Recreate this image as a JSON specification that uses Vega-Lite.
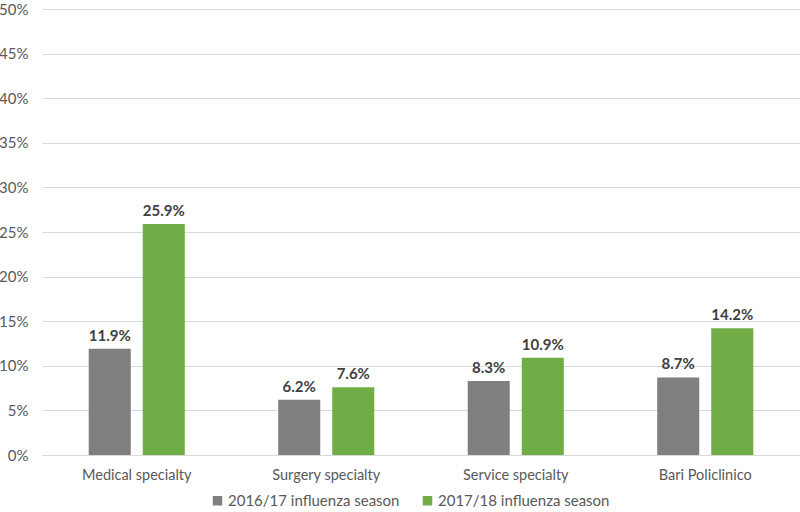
{
  "$schema": "https://vega.github.io/schema/vega-lite/v6.json",
  "autosize": {"type": "none"},
  "padding": {"left": 42, "top": 9, "right": 0, "bottom": 57},
  "width": 758,
  "height": 446,
  "background": "white",
  "data": {
    "values": [
      {"group": "Medical specialty", "season": "2016/17 influenza season", "value": 0.119},
      {"group": "Medical specialty", "season": "2017/18 influenza season", "value": 0.259},
      {"group": "Surgery specialty", "season": "2016/17 influenza season", "value": 0.062},
      {"group": "Surgery specialty", "season": "2017/18 influenza season", "value": 0.076},
      {"group": "Service specialty", "season": "2016/17 influenza season", "value": 0.083},
      {"group": "Service specialty", "season": "2017/18 influenza season", "value": 0.109},
      {"group": "Bari Policlinico", "season": "2016/17 influenza season", "value": 0.087},
      {"group": "Bari Policlinico", "season": "2017/18 influenza season", "value": 0.142}
    ]
  },
  "config": {
    "view": {"stroke": null},
    "font": "Lato"
  },
  "encoding": {
    "x": {
      "field": "group", "type": "nominal", "sort": null,
      "scale": {"paddingInner": 0.493, "paddingOuter": 0.2465},
      "axis": {"title": null, "labelAngle": 0, "ticks": false, "domainColor": "#d9d9d9", "labelColor": "#595959", "labelFontSize": 14.5, "labelPadding": 13, "labelFont": "Lato"}
    },
    "xOffset": {"field": "season", "type": "nominal", "scale": {"paddingInner": 0.222, "paddingOuter": 0}},
    "y": {
      "field": "value", "type": "quantitative",
      "scale": {"domain": [0, 0.5], "nice": false},
      "axis": {"title": null, "format": ".0%", "values": [0,0.05,0.1,0.15,0.2,0.25,0.3,0.35,0.4,0.45,0.5], "labelOverlap": false, "domain": false, "ticks": false, "gridColor": "#d9d9d9", "labelColor": "#595959", "labelFontSize": 15, "labelPadding": 14, "labelFont": "Lato"}
    }
  },
  "layer": [
    {
      "mark": {"type": "bar"},
      "encoding": {
        "color": {
          "field": "season", "type": "nominal",
          "scale": {"range": ["#7f7f7f", "#70ad47"]},
          "legend": {"title": null, "orient": "none", "direction": "horizontal", "legendX": 168, "legendY": 484, "symbolType": "square", "symbolSize": 90, "symbolStrokeWidth": 0, "labelFontSize": 15, "labelColor": "#595959", "labelFont": "Lato", "labelLimit": 300, "columnPadding": 20, "labelOffset": 3}
        }
      }
    },
    {
      "mark": {"type": "text", "dy": -13, "fontWeight": "bold", "fontSize": 15, "color": "#404040", "font": "Lato"},
      "encoding": {
        "text": {"field": "value", "type": "quantitative", "format": ".1%"}
      }
    }
  ]
}
